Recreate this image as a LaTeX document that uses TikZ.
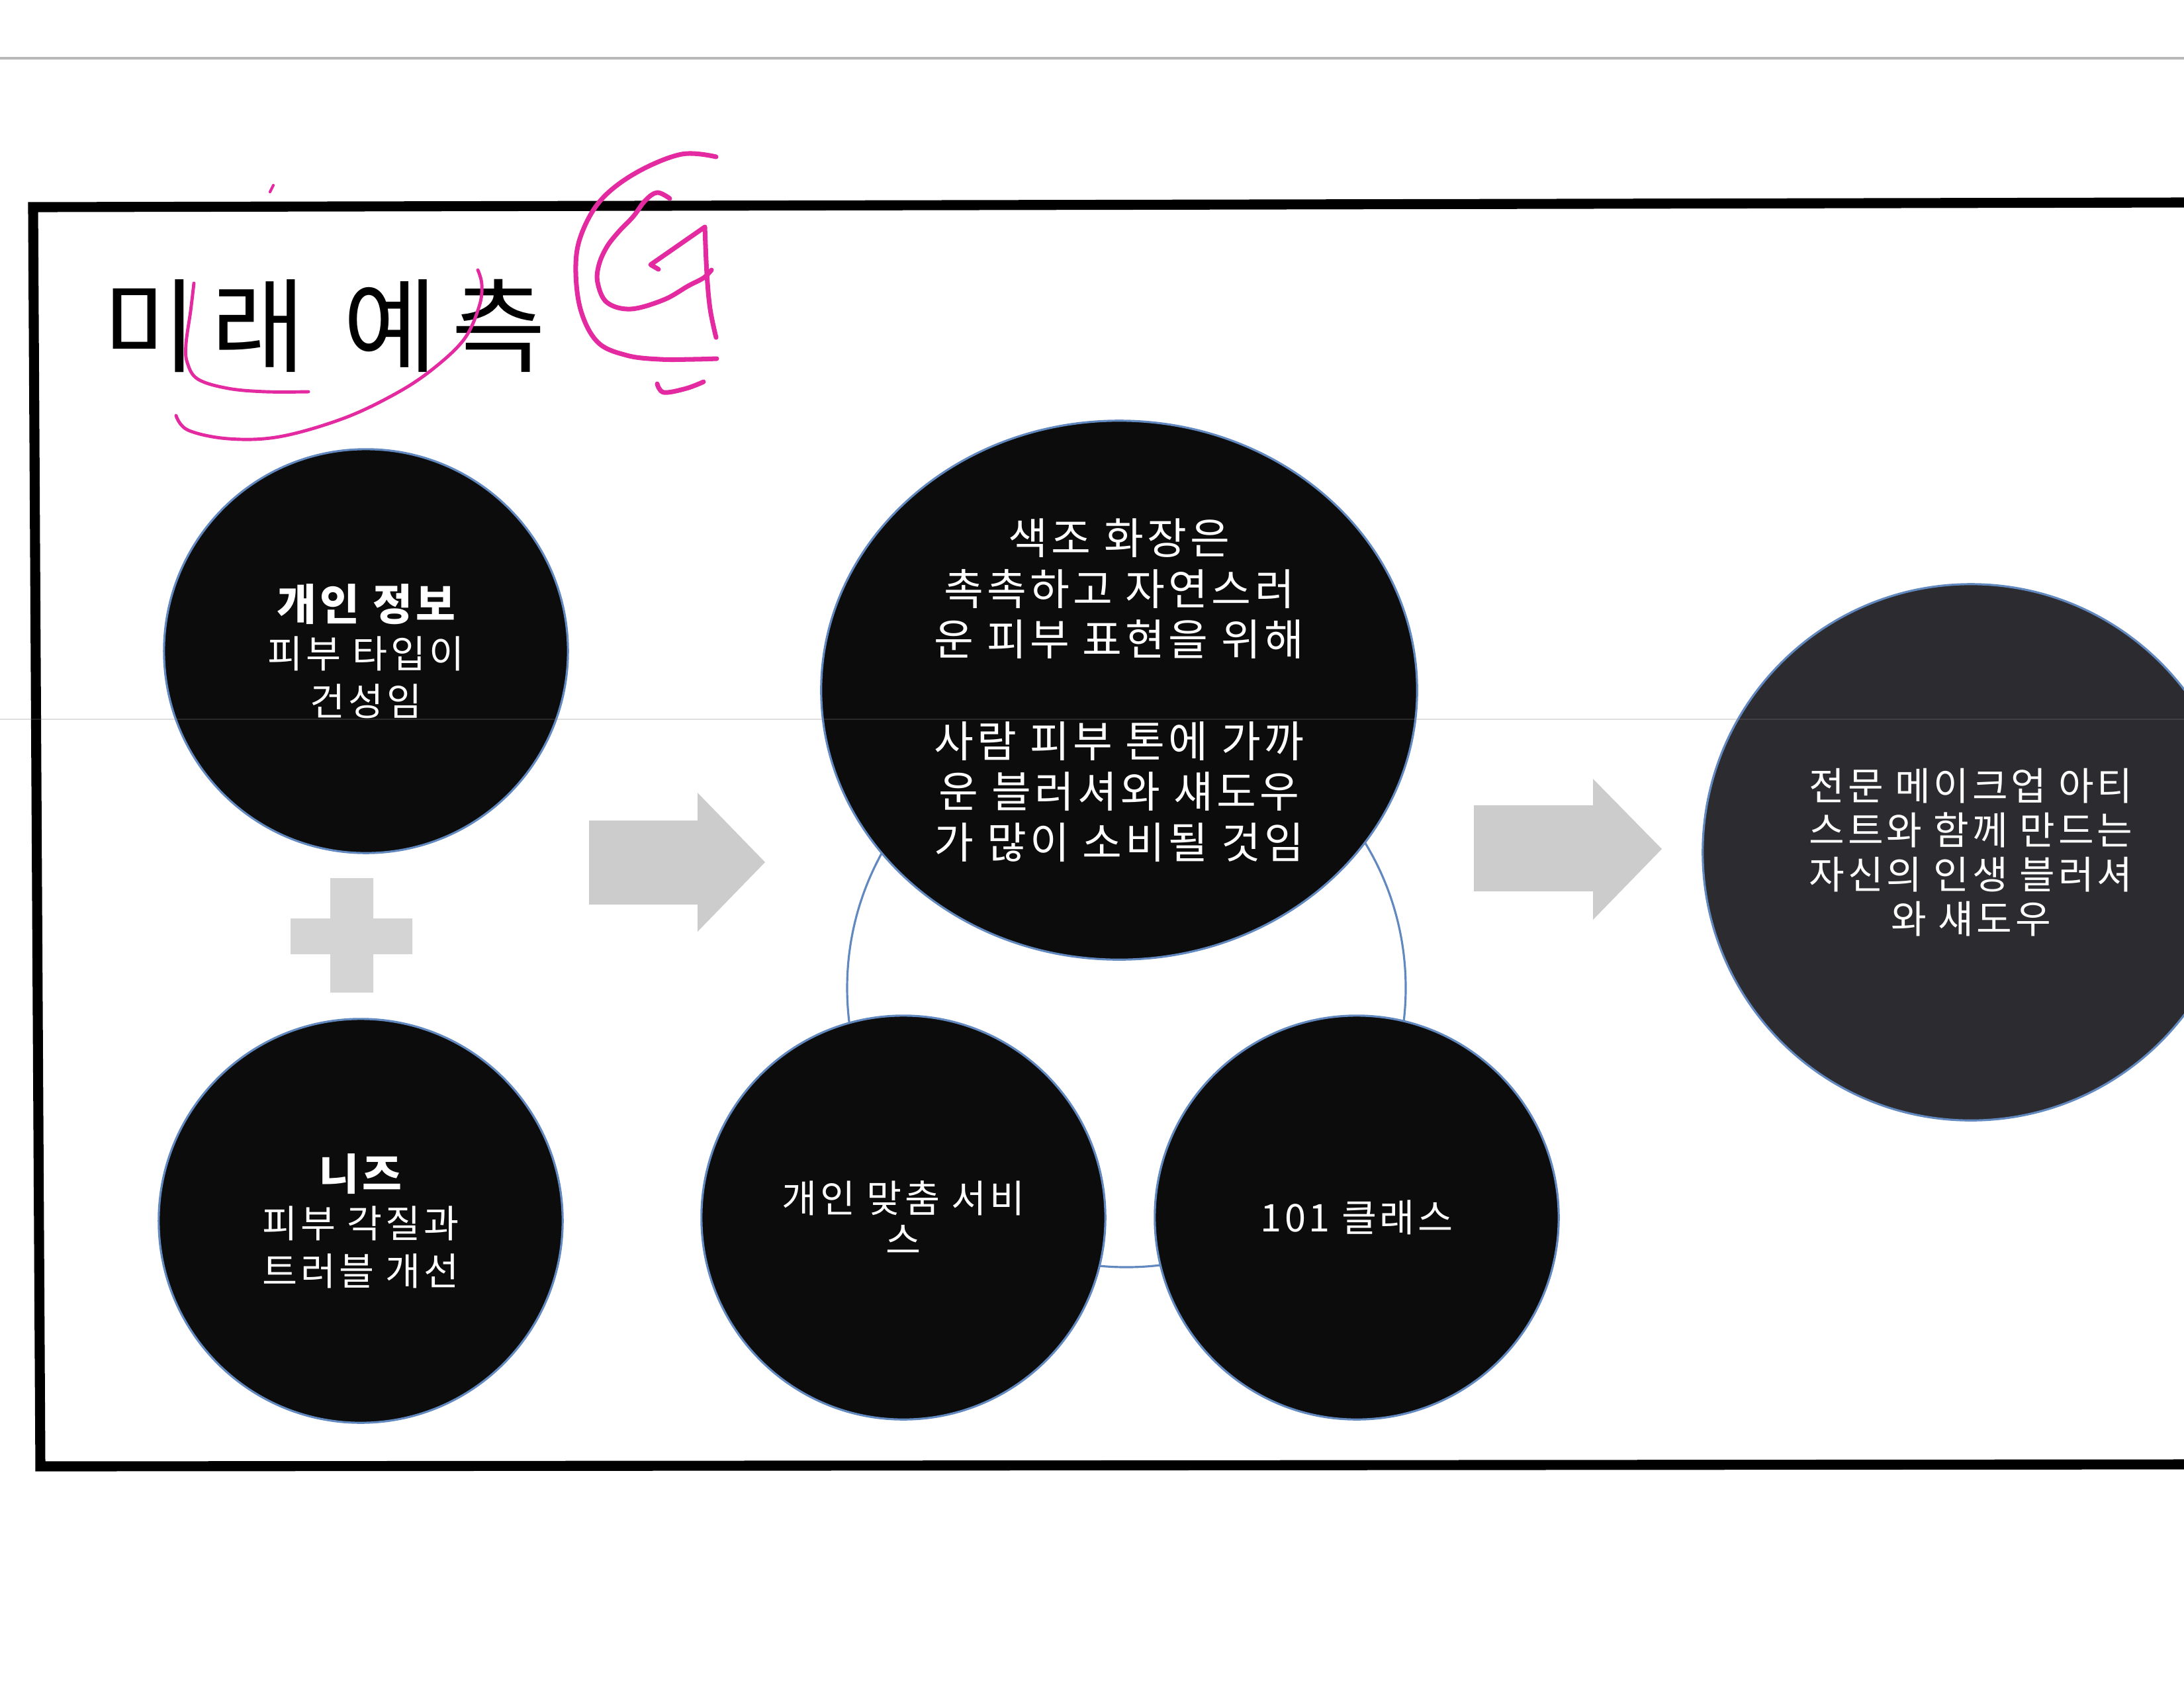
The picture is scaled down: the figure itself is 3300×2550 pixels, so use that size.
\documentclass[tikz,border=0pt]{standalone}
\usepackage{fontspec}
\setmainfont{Noto Sans CJK KR}[LetterSpace=8]
\usepackage{tikz}
\usetikzlibrary{positioning,shapes.geometric}
\definecolor{CircleBlack}{RGB}{12,12,12}
\definecolor{CircleGray}{RGB}{44,44,48}
\definecolor{OutlineBlue}{RGB}{98,136,192}
\definecolor{ArrowGray}{RGB}{204,204,204}
\definecolor{PlusGray}{RGB}{212,212,212}
\definecolor{MarkerPink}{RGB}{228,42,160}

\begin{document}
\begin{tikzpicture}[x=0.01cm,y=-0.01cm,
	blob/.style={circle,draw=OutlineBlue,line width=0.9pt,fill=CircleBlack,text=white,align=center,inner sep=0pt,minimum size=6.1cm},
	marker/.style={MarkerPink,line width=2pt,line cap=round,line join=round}]
			\useasboundingbox (0,0) rectangle (3300,2550);
			\draw[gray!55,line width=1.2pt] (0,88)--(3300,88);
			\draw[black,line width=4.3pt,line join=miter] (3300,306)--(50,313)--(61,2216)--(3300,2213);
			\node (title) at (490,492) {\fontsize{44}{48}\selectfont\addfontfeatures{LetterSpace=14}미래 예측};
			\coordinate (hub) at (1702,1493);
			\draw[OutlineBlue,line width=0.9pt] (hub) circle[radius=422];
			\node[blob,font=\fontsize{16.4}{20.5}\selectfont] (info) at (553,984) {{\fontsize{18.5}{20.5}\selectfont\bfseries 개인 정보}\\피부 타입이\\건성임};
			\node[blob,font=\fontsize{16.4}{20.5}\selectfont] (needs) at (545,1845) {{\fontsize{18.5}{20.5}\selectfont\bfseries 니즈}\\피부 각질과\\트러블 개선};
			\node[blob,ellipse,minimum width=9cm,minimum height=8.14cm,font=\fontsize{18.5}{21.8}\selectfont] (trend) at (1691,1043) {색조 화장은\\촉촉하고 자연스러\\운 피부 표현을 위해\\[21.8pt]사람 피부 톤에 가까\\운 블러셔와 섀도우\\가 많이 소비될 것임};
			\node[blob,font=\fontsize{16.4}{18}\selectfont] (custom) at (1365,1840) {개인 맞춤 서비\\스};
			\node[blob,font=\fontsize{16.4}{18}\selectfont] (oneclass) at (2050,1840) {101 클래스};
			\node[blob,fill=CircleGray,minimum size=8.1cm,font=\fontsize{16.6}{19}\selectfont] (artist) at (2978,1288) {전문 메이크업 아티\\스트와 함께 만드는\\자신의 인생 블러셔\\와 섀도우};
			\fill[PlusGray] (499,1327)--(564,1327)--(564,1388)--(623,1388)--(623,1442)--(564,1442)--(564,1500)--(499,1500)--(499,1442)--(439,1442)--(439,1388)--(499,1388)--cycle;
			\fill[ArrowGray] (890,1240)--(1054,1240)--(1054,1198)--(1156,1303)--(1054,1408)--(1054,1367)--(890,1367)--cycle;
			\fill[ArrowGray] (2227,1217)--(2407,1217)--(2407,1177)--(2511,1283)--(2407,1390)--(2407,1347)--(2227,1347)--cycle;
			\draw[gray,opacity=0.25,line width=0.5pt] (0,1087)--(3300,1087);
			\draw[marker] plot[smooth,tension=0.6] coordinates {(1082,237) (1030,233) (963,260) (910,300) (880,350) (870,400) (877,467) (903,517) (947,537) (997,543) (1047,543) (1083,542)};
			\draw[marker] plot[smooth,tension=0.6] coordinates {(1012,300) (993,291) (975,303) (957,327) (935,350) (917,373) (905,400) (903,427) (917,457) (953,467) (1003,453) (1040,432) (1063,420) (1075,408)};
			\draw[marker] (995,407)--(983,400)--(1065,343) plot[smooth,tension=0.6] coordinates {(1065,343) (1068,413) (1073,467) (1082,510)};
			\draw[marker] plot[smooth,tension=0.6] coordinates {(993,580) (1003,593) (1037,587) (1063,577)};
			\draw[marker,line width=1.4pt] plot[smooth,tension=0.6] coordinates {(293,428) (288,470) (281,520) (283,548) (299,573) (345,587) (402,592) (466,592)};
			\draw[marker,line width=1.4pt] plot[smooth,tension=0.6] coordinates {(722,408) (728,430) (724,463) (701,513) (651,560) (594,597) (517,633) (422,660) (345,663) (284,650) (266,628)};
			\draw[marker,line width=1.2pt] (408,290)--(413,280);
		\end{tikzpicture}
\end{document}
